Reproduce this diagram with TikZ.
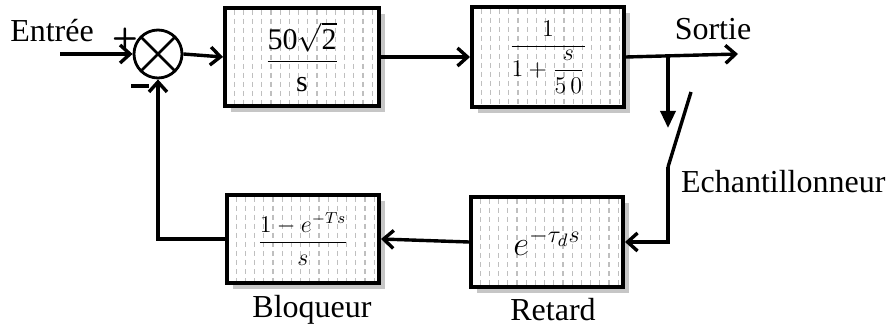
\documentclass[tikz,border=0pt]{standalone}
\usepackage{amsmath}
\usepackage{fontspec}
\setmainfont{Liberation Serif}
\usetikzlibrary{arrows.meta,shadows,calc}

\begin{document}
\begin{tikzpicture}[x=0.5pt,y=-0.5pt,
  bloc/.style={draw,line width=2pt,fill=white,inner sep=0pt,
    drop shadow={shadow xshift=3pt,shadow yshift=-3pt,fill=gray!45,opacity=1},
    path picture={\foreach \k in {1,...,17}{\draw[gray!50,line width=0.6pt,dash pattern=on 2.5pt off 2pt]
      ($(path picture bounding box.north west)+(\k*4.6pt,-1pt)$) -- ($(path picture bounding box.south west)+(\k*4.6pt,0pt)$);}}},
  fleche/.style={line width=1.7pt,-{Straight Barb[length=5pt,width=9pt]}},
  lien/.style={line width=1.7pt},
  signe/.style={font=\fontsize{15}{16}\sffamily\bfseries\selectfont,inner sep=0pt},
  font=\fontsize{16}{19}\selectfont]

\useasboundingbox (0,0) rectangle (888,331);

% chaine directe
\node[draw,circle,line width=1.4pt,minimum size=24pt,inner sep=0pt,
  path picture={\draw[line width=1.4pt] (path picture bounding box.north west) -- (path picture bounding box.south east)
    (path picture bounding box.north east) -- (path picture bounding box.south west);}] (somme) at (158,54) {};
\node[bloc,minimum width=77pt,minimum height=49pt] (G1) at (302,57) {\fontsize{15}{18}\selectfont$\dfrac{\text{50}\sqrt{\text{2}}}{\rule{0pt}{13pt}\text{s}}$};
\node[bloc,minimum width=76pt,minimum height=50pt] (G2) at (548,57) {\fontsize{12}{14}\selectfont$\dfrac{1}{1+\dfrac{s}{5\,0}}$};

% retour
\node[bloc,minimum width=76pt,minimum height=45pt] (R) at (547,242) {\fontsize{18}{20}\selectfont$e^{-\tau_d s}$};
\node[bloc,minimum width=76pt,minimum height=44pt] (B) at (303,239) {\fontsize{11.5}{14}\selectfont$\dfrac{1-e^{-Ts}}{s}$};

\coordinate (entree) at (60,54);
\coordinate (sortie) at (738,54);
\coordinate (branche) at (668,54);
\coordinate (ech1) at (668,128);
\coordinate (ech2) at (668,167);
\coordinate (ech3) at (691,92);

\node (lentree) at (52,31) {Entrée};
\node (lsortie) at (713,29) {Sortie};
\node[anchor=west] (lech) at (674,182) {Echantillonneur};
\node (lbloq) at (312,310) {Bloqueur};
\node (lret) at (553,310) {Retard};
\node[signe] (plus) at (125,39) {+};
\node[signe] (moins) at (140,86) {\rule{9pt}{2.2pt}};

\draw[fleche] (entree) -- (somme.west);
\draw[fleche] (somme.east) -- (G1.west);
\draw[fleche] (G1.east) -- (G2.west);
\draw[fleche] (G2.east) -- (sortie);
\draw[line width=1.7pt,-{Triangle[length=8.5pt,width=7.5pt]}] (branche) -- (ech1);
\draw[lien] (ech3) -- (ech2);
\draw[fleche] (ech2) |- (R.east);
\draw[fleche] (R.west) -- (B.east);
\draw[fleche] (B.west) -| (somme.south);

\end{tikzpicture}
\end{document}
